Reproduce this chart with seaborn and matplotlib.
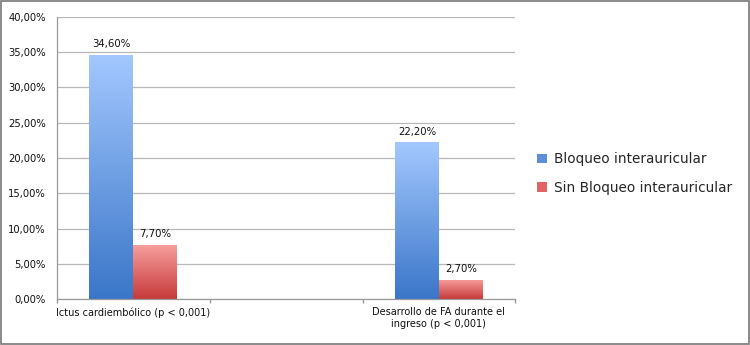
"""Bar chart: bloqueo interauricular vs sin bloqueo."""

import matplotlib.pyplot as plt
import numpy as np
import pandas as pd
import seaborn as sns
from matplotlib.colors import LinearSegmentedColormap
from matplotlib.patches import Patch, Rectangle

CATEGORIES = [
    "Ictus cardiembólico (p < 0,001)",
    " ",
    "Desarrollo de FA durante el\ningreso (p < 0,001)",
]
SERIES = ["Bloqueo interauricular", "Sin Bloqueo interauricular"]
BLOQUEO = [0.346, 0.222]
SIN_BLOQUEO = [0.077, 0.027]
DATA_CATS = [CATEGORIES[0], CATEGORIES[2]]

# gradient colours (top, bottom) per series
GRADIENTS = {
    SERIES[0]: ("#a3c8ff", "#3a76c8"),
    SERIES[1]: ("#f8a09e", "#c63a3a"),
}
SOLID = {SERIES[0]: "#5b8fd9", SERIES[1]: "#e06464"}


def pct(v):
    return f"{v * 100:.2f}%".replace(".", ",")


df = pd.DataFrame({
    "cat": DATA_CATS * 2,
    "serie": [SERIES[0]] * 2 + [SERIES[1]] * 2,
    "valor": BLOQUEO + SIN_BLOQUEO,
})

sns.set_theme(style="white")
plt.rcParams["font.family"] = ["DejaVu Sans"]

fig = plt.figure(figsize=(7.5, 3.45), dpi=100)
ax = fig.add_axes([0.076, 0.133, 0.611, 0.818])

sns.barplot(
    data=df, x="cat", y="valor", hue="serie", order=CATEGORIES,
    hue_order=SERIES, palette=SOLID, width=0.576, ax=ax, legend=False,
    saturation=1, linewidth=0,
)

ax.set_ylim(0, 0.40)
ax.set_xlim(-0.5, 2.5)
ax.set_yticks(np.arange(0, 0.401, 0.05))
ax.set_yticklabels([pct(v) for v in np.arange(0, 0.401, 0.05)], fontsize=7.2,
                   color="#111111")
ax.yaxis.grid(True, color="#b8b8b8", linewidth=0.9)
ax.set_axisbelow(True)
ax.set_xlabel("")
ax.set_ylabel("")
ax.tick_params(axis="x", which="major", length=0, labelsize=7, pad=6,
               labelcolor="#111111")
ax.tick_params(axis="y", length=0, pad=8)
ax.set_xticks([-0.5, 0.5, 1.5, 2.5], minor=True)
ax.tick_params(axis="x", which="minor", length=3, color="#999999", direction="out")
ax.xaxis.set_ticks_position("bottom")
for side in ("top", "right"):
    ax.spines[side].set_visible(False)
for side in ("left", "bottom"):
    ax.spines[side].set_color("#999999")
    ax.spines[side].set_linewidth(0.9)

# gradient fill and value labels on each bar
for patch in list(ax.patches):
    h = patch.get_height()
    if not np.isfinite(h) or h <= 0:
        continue
    fc = patch.get_facecolor()
    serie = SERIES[0] if fc[2] > fc[0] else SERIES[1]
    top, bottom = GRADIENTS[serie]
    cmap = LinearSegmentedColormap.from_list("g", [bottom, top])
    x0, w = patch.get_x(), patch.get_width()
    grad = np.linspace(0, 1, 256).reshape(-1, 1)
    im = ax.imshow(grad, cmap=cmap, origin="lower", aspect="auto",
                   extent=[x0, x0 + w, 0, h], zorder=patch.get_zorder() + 0.1)
    im.set_clip_path(patch)
    ax.text(x0 + w / 2, h + 0.008, pct(h), ha="center", va="bottom",
            fontsize=7.3, color="#111111")

ax.set_xlim(-0.5, 2.5)
ax.set_ylim(0, 0.40)

handles = [Patch(facecolor=SOLID[s], edgecolor="none") for s in SERIES]
fig.legend(handles, SERIES, loc="center left", bbox_to_anchor=(0.7, 0.497),
           frameon=False, fontsize=9.8, handlelength=0.7, handleheight=0.7,
           handletextpad=0.5, labelspacing=1.1)

fig.add_artist(Rectangle((0.001, 0.002), 0.997, 0.995, transform=fig.transFigure,
                         fill=False, edgecolor="#777777", linewidth=1.2))

fig.savefig("out.png", dpi=100)
